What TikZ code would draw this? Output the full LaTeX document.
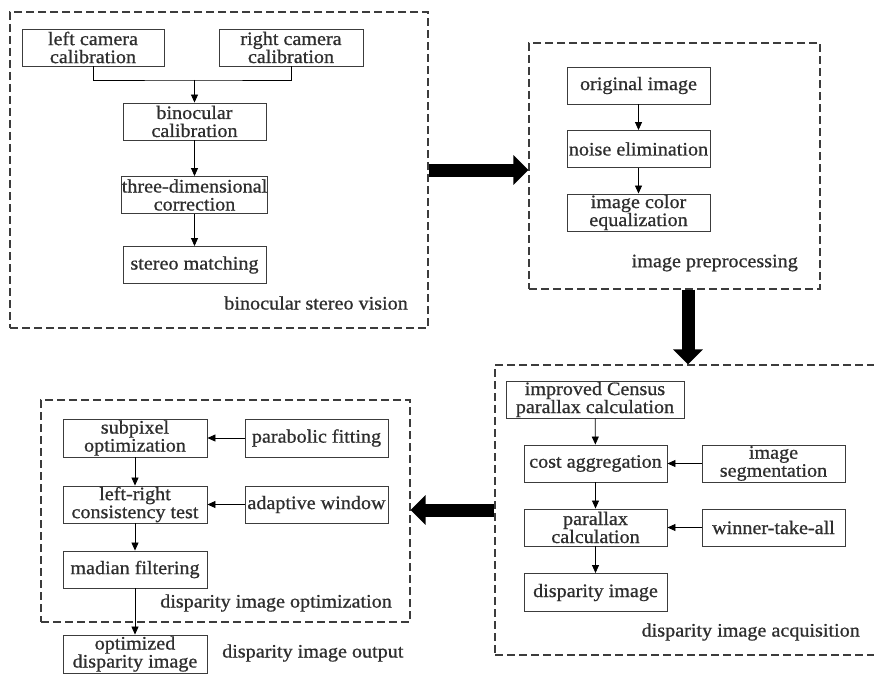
\documentclass[tikz,border=0pt]{standalone}
\usepackage{fontspec}
\setmainfont[FakeStretch=1.06,FakeBold=0.8]{Liberation Serif}
\usetikzlibrary{arrows.meta}
\definecolor{linec}{HTML}{3C3C3C}
\definecolor{textc}{HTML}{2E2E2E}
\newcommand\boxfont{\fontsize{19}{18}\selectfont}
\tikzset{
  box/.style={draw=linec, line width=0.9pt, inner sep=0pt, align=center,
    minimum width=143pt, minimum height=37pt, font=\boxfont, text=textc},
  frame/.style={draw=linec, line width=1.3pt, dash pattern=on 8pt off 4pt, inner sep=0pt},
  lbl/.style={font=\boxfont, text=textc, inner sep=0pt},
  conn/.style={draw=black, line width=0.8pt},
  arr/.style={conn, -{Triangle[length=8pt,width=7pt]}},
  bigarr/.style={draw=black, line width=13pt, -{Triangle[length=15pt,width=29pt]}}
}
\begin{document}
\begin{tikzpicture}[x=1pt,y=-1pt]
\useasboundingbox[fill=white] (0,0) rectangle (874,674);

% frames
\node[frame, minimum width=418pt, minimum height=316pt] (f1) at (219,170) {};
\node[frame, minimum width=291pt, minimum height=246pt] (f2) at (674.5,166) {};
\node[frame, minimum width=387pt, minimum height=290pt] (f3) at (688.5,510) {};
\node[frame, minimum width=369pt, minimum height=222pt] (f4) at (225.5,511) {};

% box 1
\node[box, minimum width=142pt] (lcc) at (93,47.5) {left camera\\calibration};
\node[box, minimum width=144pt] (rcc) at (291,47.5) {right camera\\calibration};
\node[box] (bc) at (194.5,121.5) {binocular\\calibration};
\node[box] (tdc) at (194.5,195) {three-dimensional\\correction};
\node[box] (sm) at (194.5,265) {stereo matching};
\node[lbl, anchor=east] (l1) at (408,303) {binocular stereo vision};
\coordinate (j) at (194.5,80);
\draw[conn] (lcc.south) |- (j) -| (rcc.south);
\draw[arr] (j) -- (bc.north);
\draw[arr] (bc) -- (tdc);
\draw[arr] (tdc) -- (sm);

% box 2
\node[box] (oi) at (638.5,85.5) {original image};
\node[box] (ne) at (638.5,149) {noise elimination};
\node[box] (ice) at (638.5,212.5) {image color\\equalization};
\node[lbl, anchor=east] (l2) at (798,263) {image preprocessing};
\draw[arr] (oi) -- (ne);
\draw[arr] (ne) -- (ice);

% box 3
\node[box, minimum width=178pt] (cen) at (595,399.5) {improved Census\\parallax calculation};
\node[box] (ca) at (595.5,463.5) {cost aggregation};
\node[box] (is) at (773.5,463.5) {image\\segmentation};
\node[box] (pc) at (595.5,527.5) {parallax\\calculation};
\node[box] (wta) at (773.5,527.5) {winner-take-all};
\node[box, minimum height=38pt] (di) at (595.5,592.5) {disparity image};
\node[lbl, anchor=east] (l3) at (860,632) {disparity image acquisition};
\draw[arr] (cen) -- (ca);
\draw[arr] (ca) -- (pc);
\draw[arr] (pc) -- (di);
\draw[arr] (is) -- (ca);
\draw[arr] (wta) -- (pc);

% box 4
\node[box, minimum width=144pt, minimum height=38pt] (so) at (135,438) {subpixel\\optimization};
\node[box, minimum height=38pt] (pf) at (316.5,438) {parabolic fitting};
\node[box, minimum width=144pt] (lrc) at (135,504.5) {left-right\\consistency test};
\node[box] (aw) at (316.5,504.5) {adaptive window};
\node[box, minimum width=144pt] (mf) at (135,569.5) {madian filtering};
\node[box, minimum width=144pt, minimum height=38pt] (odi) at (135,654) {optimized\\disparity image};
\node[lbl, anchor=east] (l4) at (392,603) {disparity image optimization};
\node[lbl, anchor=west] (l5) at (222,653) {disparity image output};
\draw[arr] (so) -- (lrc);
\draw[arr] (lrc) -- (mf);
\draw[arr] (mf) -- (odi);
\draw[arr] (pf) -- (so);
\draw[arr] (aw) -- (lrc);

% big arrows
\coordinate (dx) at (688,0);
\draw[bigarr] (f1.east) -- (f1.east -| f2.west);
\draw[bigarr] (f2.south -| dx) -- (f3.north -| dx);
\draw[bigarr] (f3.west) -- (f3.west -| f4.east);
\end{tikzpicture}
\end{document}
